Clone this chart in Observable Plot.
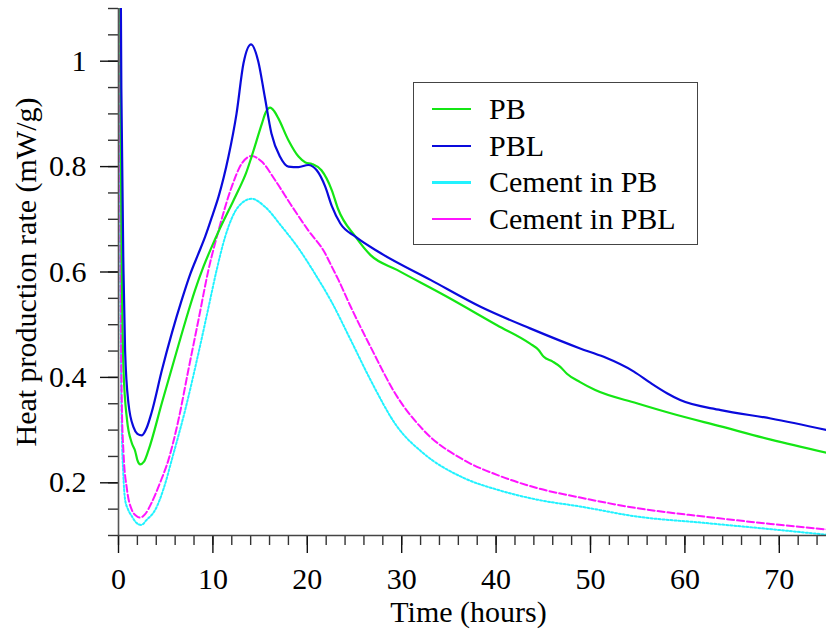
<!DOCTYPE html>
<html><head><meta charset="utf-8">
<script src="https://cdn.jsdelivr.net/npm/d3@7"></script>
<script src="https://cdn.jsdelivr.net/npm/@observablehq/plot@0.6"></script>
<style>
body{margin:0;background:#fff;}
#wrap{position:relative;width:829px;height:632px;font-family:"Liberation Serif","Times New Roman",serif;background:#fff;}
#legend{position:absolute;left:413px;top:82px;width:285px;height:163px;border:1.5px solid #444;background:#fff;box-sizing:border-box;}
.row{position:absolute;left:0;height:36px;display:flex;align-items:center;font-size:30px;color:#000;white-space:nowrap;}
.sw{width:39px;height:0;margin-left:18px;margin-right:18px;}
</style></head>
<body><div id="wrap"><div id="chart"></div><div id="legend"></div></div>
<script>
// Time (hours), heat production rate (mW/g)
const PB = [[0.1,1.6],[0.25,0.85],[0.53,0.414],[0.9,0.32],[1.4,0.276],[1.77,0.26],[2.0,0.243],[2.3,0.235],[2.7,0.24],[3.18,0.262],[4.6,0.352],[5.9,0.433],[7.13,0.509],[8.1,0.565],[9.0,0.61],[10.0,0.653],[10.6,0.677],[11.7,0.718],[12.7,0.755],[13.5,0.787],[14.1,0.819],[15.2,0.882],[15.6,0.903],[16.07,0.912],[16.5,0.905],[16.95,0.891],[18,0.85],[19.07,0.819],[19.8,0.808],[20.5,0.805],[21.5,0.793],[22.6,0.755],[23.25,0.72],[25.1,0.667],[26.7,0.632],[29.5,0.604],[34.8,0.553],[40.1,0.499],[43.6,0.464],[44.5,0.452],[45.05,0.439],[46.0,0.43],[46.8,0.42],[47.5,0.407],[48.9,0.391],[50.5,0.376],[54.9,0.351],[58.5,0.332],[63.8,0.307],[69.1,0.282],[75.3,0.256]];
const PBL = [[0.1,1.6],[0.3,0.95],[0.53,0.6],[0.7,0.45],[1.06,0.35],[1.6,0.305],[2.0,0.293],[2.47,0.29],[3.0,0.305],[3.5,0.333],[4.6,0.414],[5.65,0.484],[6.7,0.547],[7.6,0.596],[8.4,0.632],[9.18,0.667],[10.0,0.71],[10.6,0.743],[11.65,0.819],[12.5,0.9],[13.24,0.996],[14.05,1.032],[14.8,1.0],[15.5,0.932],[16.2,0.863],[17.1,0.819],[18,0.8],[19.07,0.799],[20.1,0.803],[21,0.793],[21.9,0.762],[22.6,0.725],[23.5,0.692],[25.1,0.667],[27.75,0.636],[33.05,0.585],[38.35,0.534],[43.6,0.493],[48.9,0.455],[51.4,0.439],[54.6,0.411],[56.4,0.389],[58.1,0.37],[59.5,0.357],[63.8,0.338],[69.1,0.322],[75.3,0.299]];
const CEMENT_PB = [[0.1,1.6],[0.2,0.6],[0.35,0.3],[0.5,0.22],[0.7,0.168],[1.0,0.15],[1.4,0.137],[1.9,0.124],[2.4,0.12],[3.0,0.13],[3.9,0.149],[4.8,0.19],[5.65,0.244],[7.06,0.338],[8.47,0.446],[9.5,0.53],[10.4,0.604],[11.3,0.667],[12.7,0.724],[14.1,0.739],[15.5,0.724],[17.3,0.686],[19.07,0.645],[20.8,0.597],[22.46,0.547],[24.6,0.471],[26.7,0.395],[29.5,0.307],[32.3,0.256],[36.6,0.209],[40.1,0.187],[44.35,0.168],[48.9,0.155],[54.9,0.136],[62,0.124],[69.1,0.112],[75.3,0.101]];
const CEMENT_PBL = [[0.1,1.6],[0.2,0.7],[0.35,0.35],[0.53,0.257],[0.9,0.187],[1.4,0.149],[1.9,0.137],[2.3,0.134],[2.8,0.14],[3.5,0.162],[4.4,0.2],[5.3,0.244],[6.36,0.32],[7.4,0.414],[8.47,0.509],[9.53,0.604],[10.6,0.679],[12.0,0.762],[13.06,0.806],[14.1,0.82],[15.2,0.809],[16.6,0.774],[18.4,0.724],[20.1,0.679],[21.9,0.635],[22.46,0.615],[23.3,0.585],[24.6,0.534],[26.7,0.458],[29.5,0.364],[32.3,0.3],[36.6,0.243],[40.1,0.215],[44.35,0.19],[48.9,0.172],[54.9,0.152],[62,0.136],[69.1,0.122],[75.3,0.111]];

const seriesNames = ["PB", "PBL", "Cement in PB", "Cement in PBL"];
const seriesPoints = [PB, PBL, CEMENT_PB, CEMENT_PBL];
const seriesColors = ["#14e614", "#0a0adc", "#22f2ff", "#ff14ff"];
const seriesDash = [null, null, "2,2", "7,3"];

const xMajor = [0, 10, 20, 30, 40, 50, 60, 70];
const xMinor = [0,2,4,6,8,10,12,14,16,18,20,22,24,26,28,30,32,34,36,38,40,42,44,46,48,50,52,54,56,58,60,62,64,66,68,70,72,74];
const yMajor = [0.2, 0.4, 0.6, 0.8, 1];
const yMajorLabels = ["0.2", "0.4", "0.6", "0.8", "1"];
const yMinor = [0.1,0.15,0.2,0.25,0.3,0.35,0.4,0.45,0.5,0.55,0.6,0.65,0.7,0.75,0.8,0.85,0.9,0.95,1,1.05,1.1];
const xLabel = "Time (hours)";
const yLabel = "Heat production rate (mW/g)";

const FONT = '"Liberation Serif","Times New Roman",serif';

const lineMarks = [2, 3, 0, 1].map(i => Plot.line(seriesPoints[i], {
  x: d => d[0], y: d => d[1],
  stroke: seriesColors[i], strokeWidth: i >= 2 ? 2 : 2.2,
  strokeDasharray: seriesDash[i] || undefined,
  curve: "monotone-x", clip: true
}));

const chart = Plot.plot({
  width: 829, height: 632,
  marginLeft: 118, marginRight: 3, marginTop: 8, marginBottom: 97,
  style: {fontFamily: FONT, fontSize: "30px", background: "white", color: "#000"},
  x: {domain: [0, 75]},
  y: {domain: [0.1, 1.1]},
  marks: [
    ...lineMarks,
    Plot.axisX({ticks: xMinor, tickSize: 10, text: null, stroke: "#333", strokeWidth: 1.4, label: null}),
    Plot.axisX({ticks: xMajor, tickSize: 18, tickPadding: 14, fontSize: 30, fontFamily: FONT, stroke: "#111", strokeWidth: 1.4, label: null, tickFormat: d => String(d)}),
    Plot.axisY({ticks: yMinor, tickSize: 10, text: null, stroke: "#333", strokeWidth: 1.4, label: null}),
    Plot.axisY({ticks: yMajor, tickSize: 18, tickPadding: 14, fontSize: 30, fontFamily: FONT, stroke: "#111", strokeWidth: 1.4, label: null, tickFormat: d => yMajorLabels[yMajor.indexOf(d)]}),
    Plot.ruleX([0], {stroke: "#555", strokeWidth: 1.6}),
    Plot.ruleY([0.1], {stroke: "#444", strokeWidth: 1.6}),
    Plot.text([xLabel], {text: d => d, frameAnchor: "bottom", dy: 86, dx: -4, fontSize: 30, fontFamily: FONT, fill: "#000"}),
    Plot.text([yLabel], {text: d => d, frameAnchor: "left", textAnchor: "middle", rotate: -90, dx: -92, fontSize: 30, fontFamily: FONT, fill: "#000"})
  ]
});
document.getElementById("chart").appendChild(chart);

const legend = document.getElementById("legend");
const rowCenters = [26, 62.5, 99, 135.5];
seriesNames.forEach((name, i) => {
  const row = document.createElement("div");
  row.className = "row";
  row.style.top = (rowCenters[i] - 18) + "px";
  const sw = document.createElement("div");
  sw.className = "sw";
  sw.style.borderTop = (i === 2 ? "3px" : "2px") + " solid " + seriesColors[i];
  const label = document.createElement("span");
  label.textContent = name;
  row.appendChild(sw);
  row.appendChild(label);
  legend.appendChild(row);
});
</script>
</body></html>
